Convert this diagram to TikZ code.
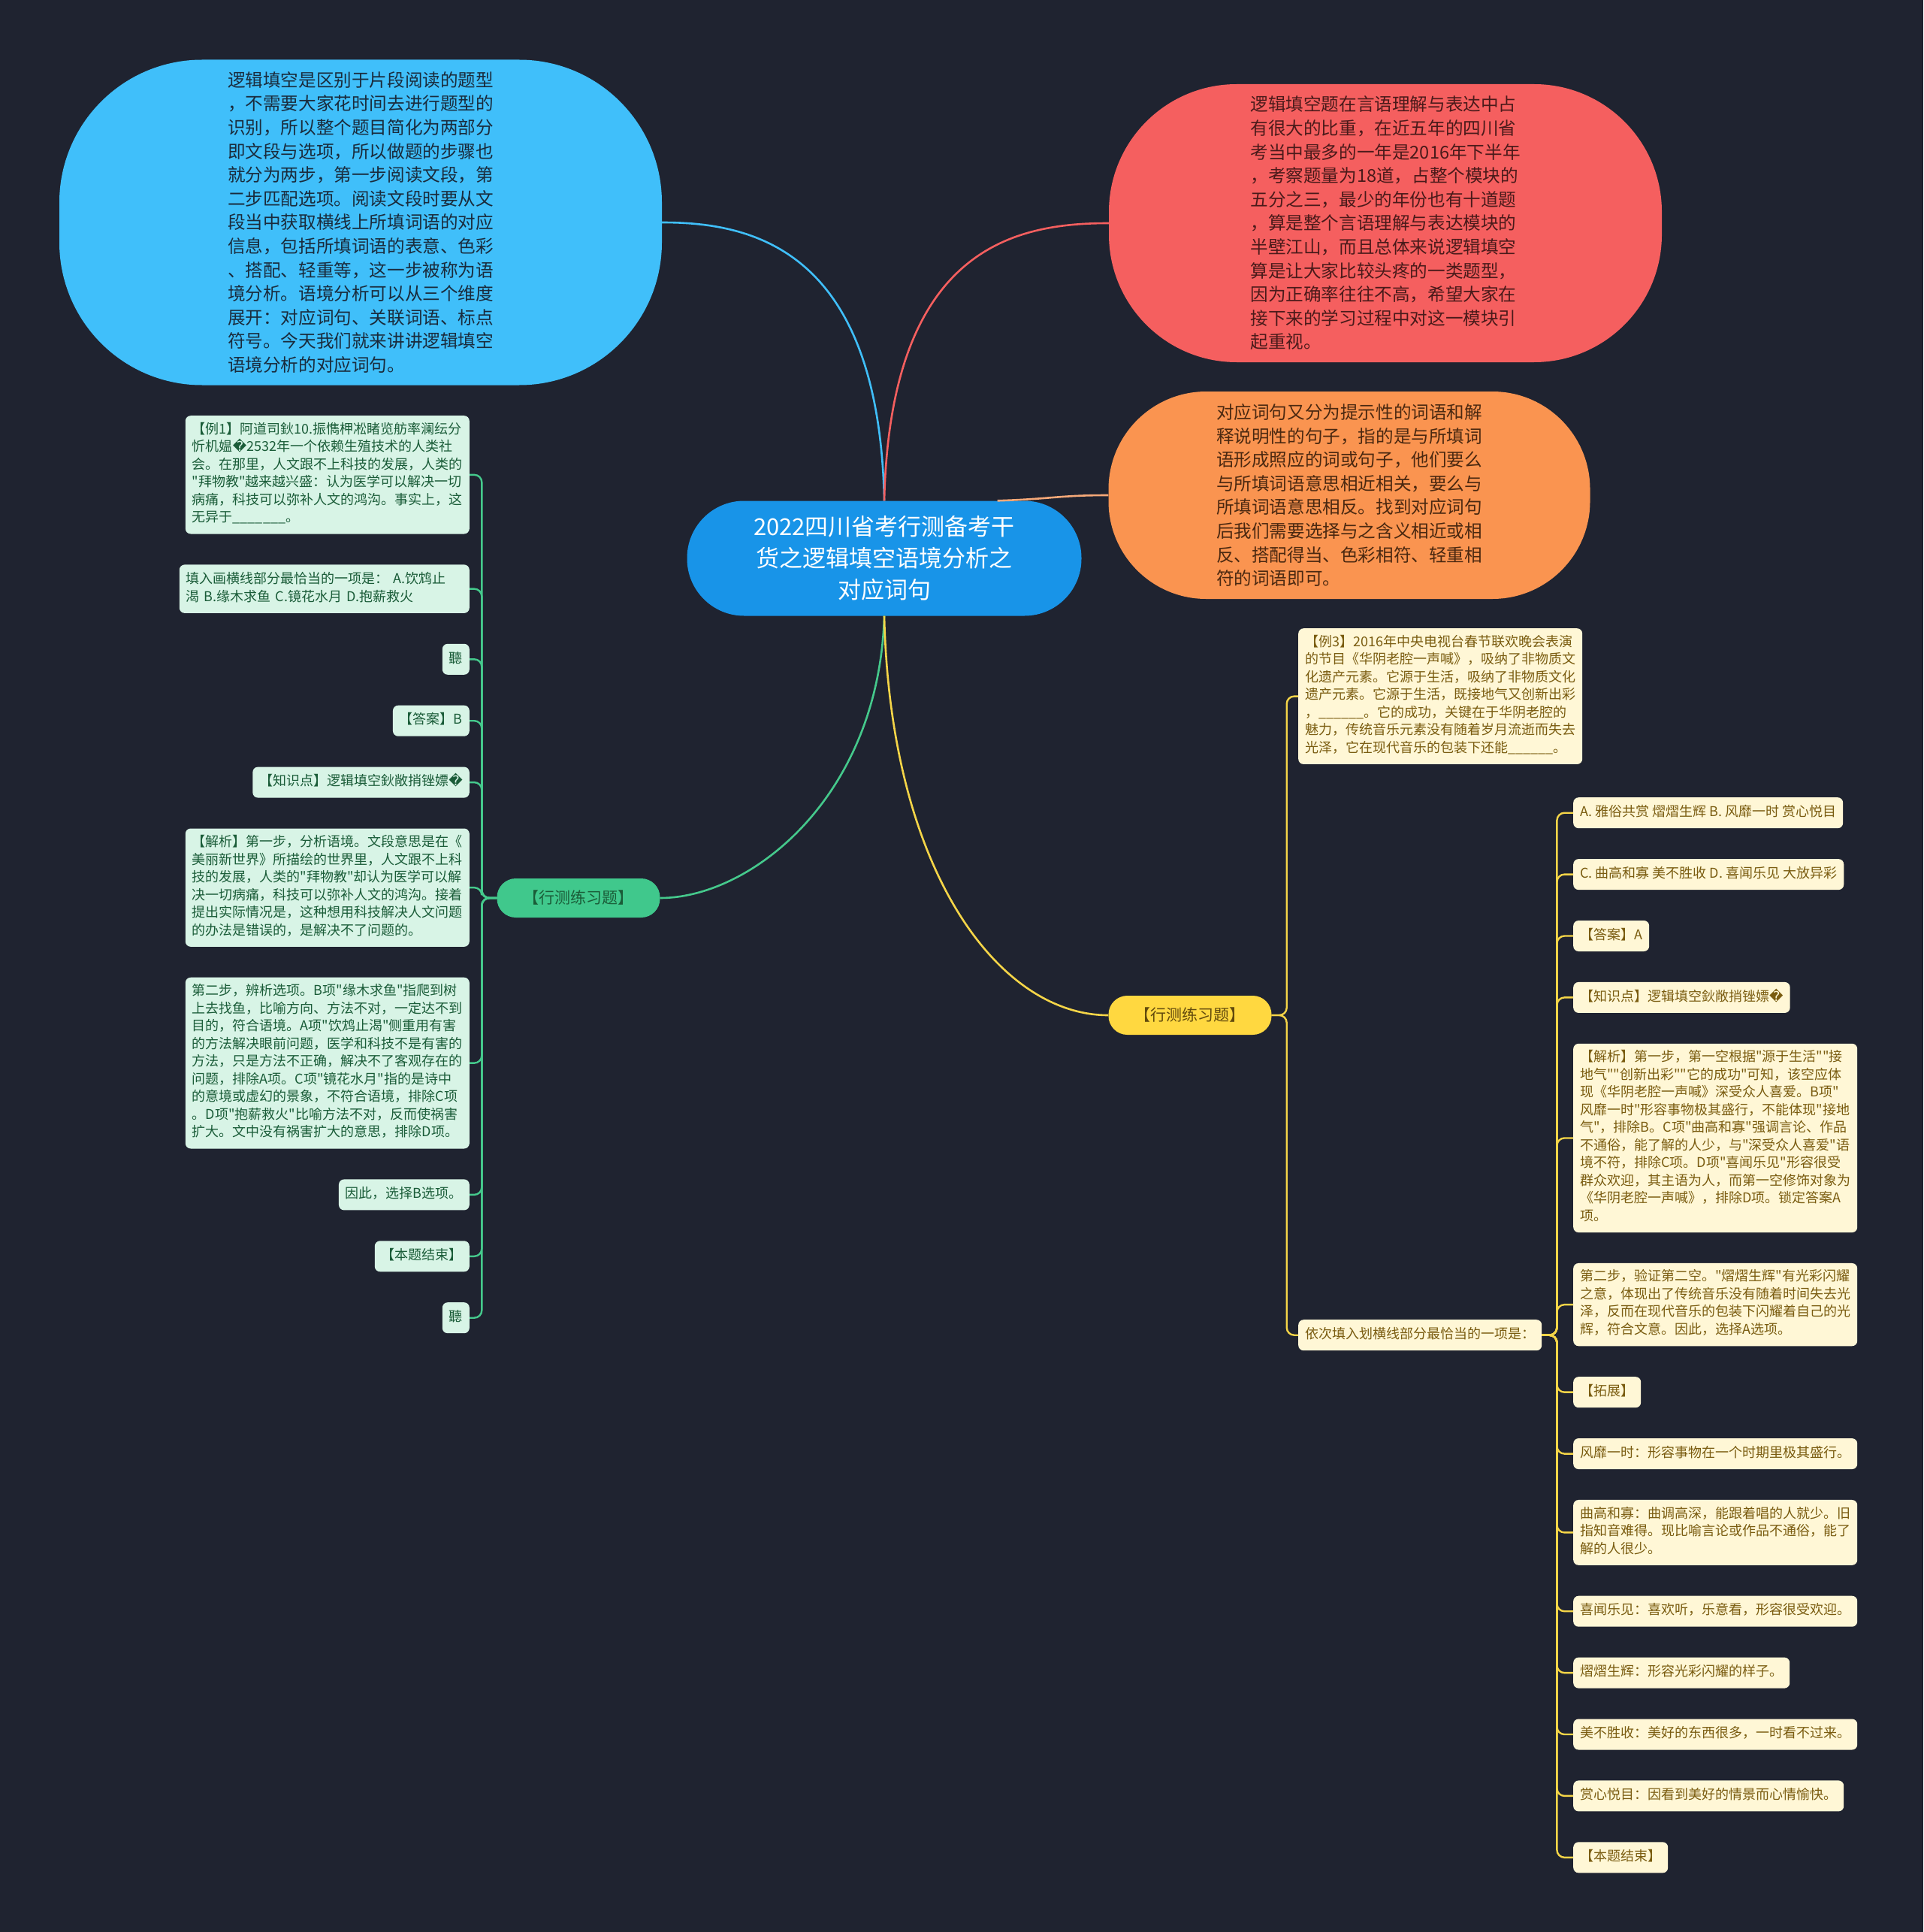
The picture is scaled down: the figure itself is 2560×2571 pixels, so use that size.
\documentclass[tikz,border=0pt]{standalone}
\usepackage{fontspec}
\setmainfont{Noto Sans CJK SC}
\newfontfamily\cjkfont{Noto Sans CJK SC}
\newfontfamily\replfont{DejaVu Sans}
\usepackage{tikz}
\usetikzlibrary{positioning}
\definecolor{PageBg}{HTML}{1F2330}
\definecolor{RootBlue}{HTML}{1894E8}
\definecolor{SkyFill}{HTML}{40BFFA}
\definecolor{SkyText}{HTML}{1A2B3C}
\definecolor{CoralFill}{HTML}{F55F5F}
\definecolor{CoralText}{HTML}{4A1A1A}
\definecolor{PeachFill}{HTML}{FA9450}
\definecolor{PeachText}{HTML}{4A2810}
\definecolor{PeachLine}{HTML}{F5A878}
\definecolor{MintBranch}{HTML}{40C88C}
\definecolor{MintLine}{HTML}{45C98C}
\definecolor{MintFill}{HTML}{D8F4E6}
\definecolor{MintText}{HTML}{1A5C38}
\definecolor{SunBranch}{HTML}{FFD840}
\definecolor{SunLine}{HTML}{F5D548}
\definecolor{CreamFill}{HTML}{FFF7D6}
\definecolor{CreamText}{HTML}{7A5C10}
\newcommand{\badglyph}{{\replfont\char"FFFD}}

\begin{document}
\begin{tikzpicture}[
  x=1pt, y=-1pt,
  node distance = 40.5pt and 0pt,
  root/.style   = {fill=RootBlue, text=white, rounded corners=76pt,
                   minimum width=525pt, minimum height=153pt, align=center,
                   font=\cjkfont\fontsize{31}{42}\selectfont},
  bubble/.style = {rounded corners=#1, align=left, inner sep=0pt,
                   font=\cjkfont\fontsize{23.6}{31.6}\selectfont},
  branch/.style = {rounded corners=25pt, minimum width=217pt,
                   minimum height=52pt, font=\cjkfont\fontsize{21}{26}\selectfont},
  leaf/.style   = {rounded corners=7pt, align=left, inner xsep=9pt,
                   inner ysep=8.75pt, font=\cjkfont\fontsize{18}{23.5}\selectfont,
                   execute at begin node=\strut, execute at end node=\strut},
  gleaf/.style  = {leaf, fill=MintFill, text=MintText},
  yleaf/.style  = {leaf, fill=CreamFill, text=CreamText},
  link/.style   = {line width=2.6pt},
  twig/.style   = {line width=2.4pt, rounded corners=10pt}
]
  \useasboundingbox (0,0) rectangle (2560,2571);
  \fill[PageBg] (0,0) rectangle (2560,2571);

  % Centre topic
  \node[root] (root) at (1177,743) {2022四川省考行测备考干\\货之逻辑填空语境分析之\\对应词句};

  % Three text bubbles
  \node[bubble=190pt, fill=SkyFill, text=SkyText, minimum width=802pt,
        minimum height=433pt] (intro) at (480,296) {%
逻辑填空是区别于片段阅读的题型\\，不需要大家花时间去进行题型的\\识别，所以整个题目简化为两部分\\%
即文段与选项，所以做题的步骤也\\就分为两步，第一步阅读文段，第\\二步匹配选项。阅读文段时要从文\\%
段当中获取横线上所填词语的对应\\信息，包括所填词语的表意、色彩\\、搭配、轻重等，这一步被称为语\\%
境分析。语境分析可以从三个维度\\展开：对应词句、关联词语、标点\\符号。今天我们就来讲讲逻辑填空\\%
语境分析的对应词句。};
  \node[bubble=170pt, fill=CoralFill, text=CoralText, minimum width=736pt,
        minimum height=370pt] (share) at (1844,297) {%
逻辑填空题在言语理解与表达中占\\有很大的比重，在近五年的四川省\\考当中最多的一年是2016年下半年\\%
，考察题量为18道，占整个模块的\\五分之三，最少的年份也有十道题\\，算是整个言语理解与表达模块的\\%
半壁江山，而且总体来说逻辑填空\\算是让大家比较头疼的一类题型，\\因为正确率往往不高，希望大家在\\%
接下来的学习过程中对这一模块引\\起重视。};
  \node[bubble=130pt, fill=PeachFill, text=PeachText, minimum width=641pt,
        minimum height=276pt] (hint) at (1796,659) {%
对应词句又分为提示性的词语和解\\释说明性的句子，指的是与所填词\\语形成照应的词或句子，他们要么\\%
与所填词语意思相近相关，要么与\\所填词语意思相反。找到对应词句\\后我们需要选择与之含义相近或相\\%
反、搭配得当、色彩相符、轻重相\\符的词语即可。};

  % Two practice branches
  \node[branch, fill=MintBranch, text=MintText] (gbr) at (770,1195) {【行测练习题】};
  \node[branch, fill=SunBranch, text=CreamText!80!black] (ybr) at (1584,1351) {【行测练习题】};

  % Left column: example 1
  \node[gleaf, anchor=north east] (g1) at (625,553) {%
【例1】阿道司鈥10.振懏柙凇睹览舫率澜纭分\\忻机媪\badglyph 2532年一个依赖生殖技术的人类社\\%
会。在那里，人文跟不上科技的发展，人类的\\"拜物教"越来越兴盛：认为医学可以解决一切\\%
病痛，科技可以弥补人文的鸿沟。事实上，这\\无异于\_\_\_\_\_\_\_。};
  \node[gleaf, text width=368pt, below=of g1.south east, anchor=north east] (g2) {%
填入画横线部分最恰当的一项是： A.饮鸩止\\渴 B.缘木求鱼 C.镜花水月 D.抱薪救火};
  \node[gleaf, below=of g2.south east, anchor=north east] (g3) {聽};
  \node[gleaf, below=of g3.south east, anchor=north east] (g4) {【答案】B};
  \node[gleaf, below=of g4.south east, anchor=north east] (g5) {【知识点】逻辑填空鈥敞捎锉嫖\badglyph};
  \node[gleaf, below=of g5.south east, anchor=north east] (g6) {%
【解析】第一步，分析语境。文段意思是在《\\美丽新世界》所描绘的世界里，人文跟不上科\\%
技的发展，人类的"拜物教"却认为医学可以解\\决一切病痛，科技可以弥补人文的鸿沟。接着\\%
提出实际情况是，这种想用科技解决人文问题\\的办法是错误的，是解决不了问题的。};
  \node[gleaf, below=of g6.south east, anchor=north east] (g7) {%
第二步，辨析选项。B项"缘木求鱼"指爬到树\\上去找鱼，比喻方向、方法不对，一定达不到\\%
目的，符合语境。A项"饮鸩止渴"侧重用有害\\的方法解决眼前问题，医学和科技不是有害的\\%
方法，只是方法不正确，解决不了客观存在的\\问题，排除A项。C项"镜花水月"指的是诗中\\%
的意境或虚幻的景象，不符合语境，排除C项\\。D项"抱薪救火"比喻方法不对，反而使祸害\\%
扩大。文中没有祸害扩大的意思，排除D项。};
  \node[gleaf, below=of g7.south east, anchor=north east] (g8) {因此，选择B选项。};
  \node[gleaf, below=of g8.south east, anchor=north east] (g9) {【本题结束】};
  \node[gleaf, below=of g9.south east, anchor=north east] (g10) {聽};

  % Right side: example 3
  \node[yleaf, anchor=north west] (ex3) at (1728,836) {%
【例3】2016年中央电视台春节联欢晚会表演\\的节目《华阴老腔一声喊》，吸纳了非物质文\\%
化遗产元素。它源于生活，吸纳了非物质文化\\遗产元素。它源于生活，既接地气又创新出彩\\%
，\_\_\_\_\_\_。它的成功，关键在于华阴老腔的\\魅力，传统音乐元素没有随着岁月流逝而失去\\%
光泽，它在现代音乐的包装下还能\_\_\_\_\_\_。};
  \node[yleaf, anchor=north west] (pick) at (1728,1756) {依次填入划横线部分最恰当的一项是：};

  % Answers and notes under the question
  \node[yleaf, anchor=north west] (y1) at (2094,1061) {A. 雅俗共赏 熠熠生辉 B. 风靡一时 赏心悦目};
  \node[yleaf, below=of y1.south west, anchor=north west] (y2) {C. 曲高和寡 美不胜收 D. 喜闻乐见 大放异彩};
  \node[yleaf, below=of y2.south west, anchor=north west] (y3) {【答案】A};
  \node[yleaf, below=of y3.south west, anchor=north west] (y4) {【知识点】逻辑填空鈥敞捎锉嫖\badglyph};
  \node[yleaf, below=of y4.south west, anchor=north west] (y5) {%
【解析】第一步，第一空根据"源于生活""接\\地气""创新出彩""它的成功"可知，该空应体\\%
现《华阴老腔一声喊》深受众人喜爱。B项"\\风靡一时"形容事物极其盛行，不能体现"接地\\%
气"，排除B。C项"曲高和寡"强调言论、作品\\不通俗，能了解的人少，与"深受众人喜爱"语\\%
境不符，排除C项。D项"喜闻乐见"形容很受\\群众欢迎，其主语为人，而第一空修饰对象为\\%
《华阴老腔一声喊》，排除D项。锁定答案A\\项。};
  \node[yleaf, below=of y5.south west, anchor=north west] (y6) {%
第二步，验证第二空。"熠熠生辉"有光彩闪耀\\之意，体现出了传统音乐没有随着时间失去光\\%
泽，反而在现代音乐的包装下闪耀着自己的光\\辉，符合文意。因此，选择A选项。};
  \node[yleaf, below=of y6.south west, anchor=north west] (y7) {【拓展】};
  \node[yleaf, below=of y7.south west, anchor=north west] (y8) {风靡一时：形容事物在一个时期里极其盛行。};
  \node[yleaf, below=of y8.south west, anchor=north west] (y9) {%
曲高和寡：曲调高深，能跟着唱的人就少。旧\\指知音难得。现比喻言论或作品不通俗，能了\\解的人很少。};
  \node[yleaf, below=of y9.south west, anchor=north west] (y10) {喜闻乐见：喜欢听，乐意看，形容很受欢迎。};
  \node[yleaf, below=of y10.south west, anchor=north west] (y11) {熠熠生辉：形容光彩闪耀的样子。};
  \node[yleaf, below=of y11.south west, anchor=north west] (y12) {美不胜收：美好的东西很多，一时看不过来。};
  \node[yleaf, below=of y12.south west, anchor=north west] (y13) {赏心悦目：因看到美好的情景而心情愉快。};
  \node[yleaf, below=of y13.south west, anchor=north west] (y14) {【本题结束】};

  % Curves out of the centre topic
  \draw[link, draw=SkyFill]    (root.north) .. controls (1170,330) and (1000,296) .. (intro.east);
  \draw[link, draw=CoralFill]  (root.north) .. controls (1185,330) and (1350,297) .. (share.west);
  \draw[link, draw=PeachLine]  (root.27) .. controls (1400,664) and (1410,659) .. (hint.west);
  \draw[link, draw=MintLine]   (root.south) .. controls (1170,1060) and (1000,1195) .. (gbr.east);
  \draw[link, draw=SunLine]    (root.south) .. controls (1185,1160) and (1330,1351) .. (ybr.west);

  % Twigs
  \foreach \leaf in {g1,g2,g3,g4,g5,g6,g7,g8,g9,g10}
    \draw[twig, draw=MintLine] (gbr.west) -- ++(-20,0) |- (\leaf.east);
  \foreach \leaf in {ex3,pick}
    \draw[twig, draw=SunLine] (ybr.east) -- ++(20,0) |- (\leaf.west);
  \foreach \leaf in {y1,y2,y3,y4,y5,y6,y7,y8,y9,y10,y11,y12,y13,y14}
    \draw[twig, draw=SunLine] (pick.east) -- ++(20,0) |- (\leaf.west);

\end{tikzpicture}
\end{document}
